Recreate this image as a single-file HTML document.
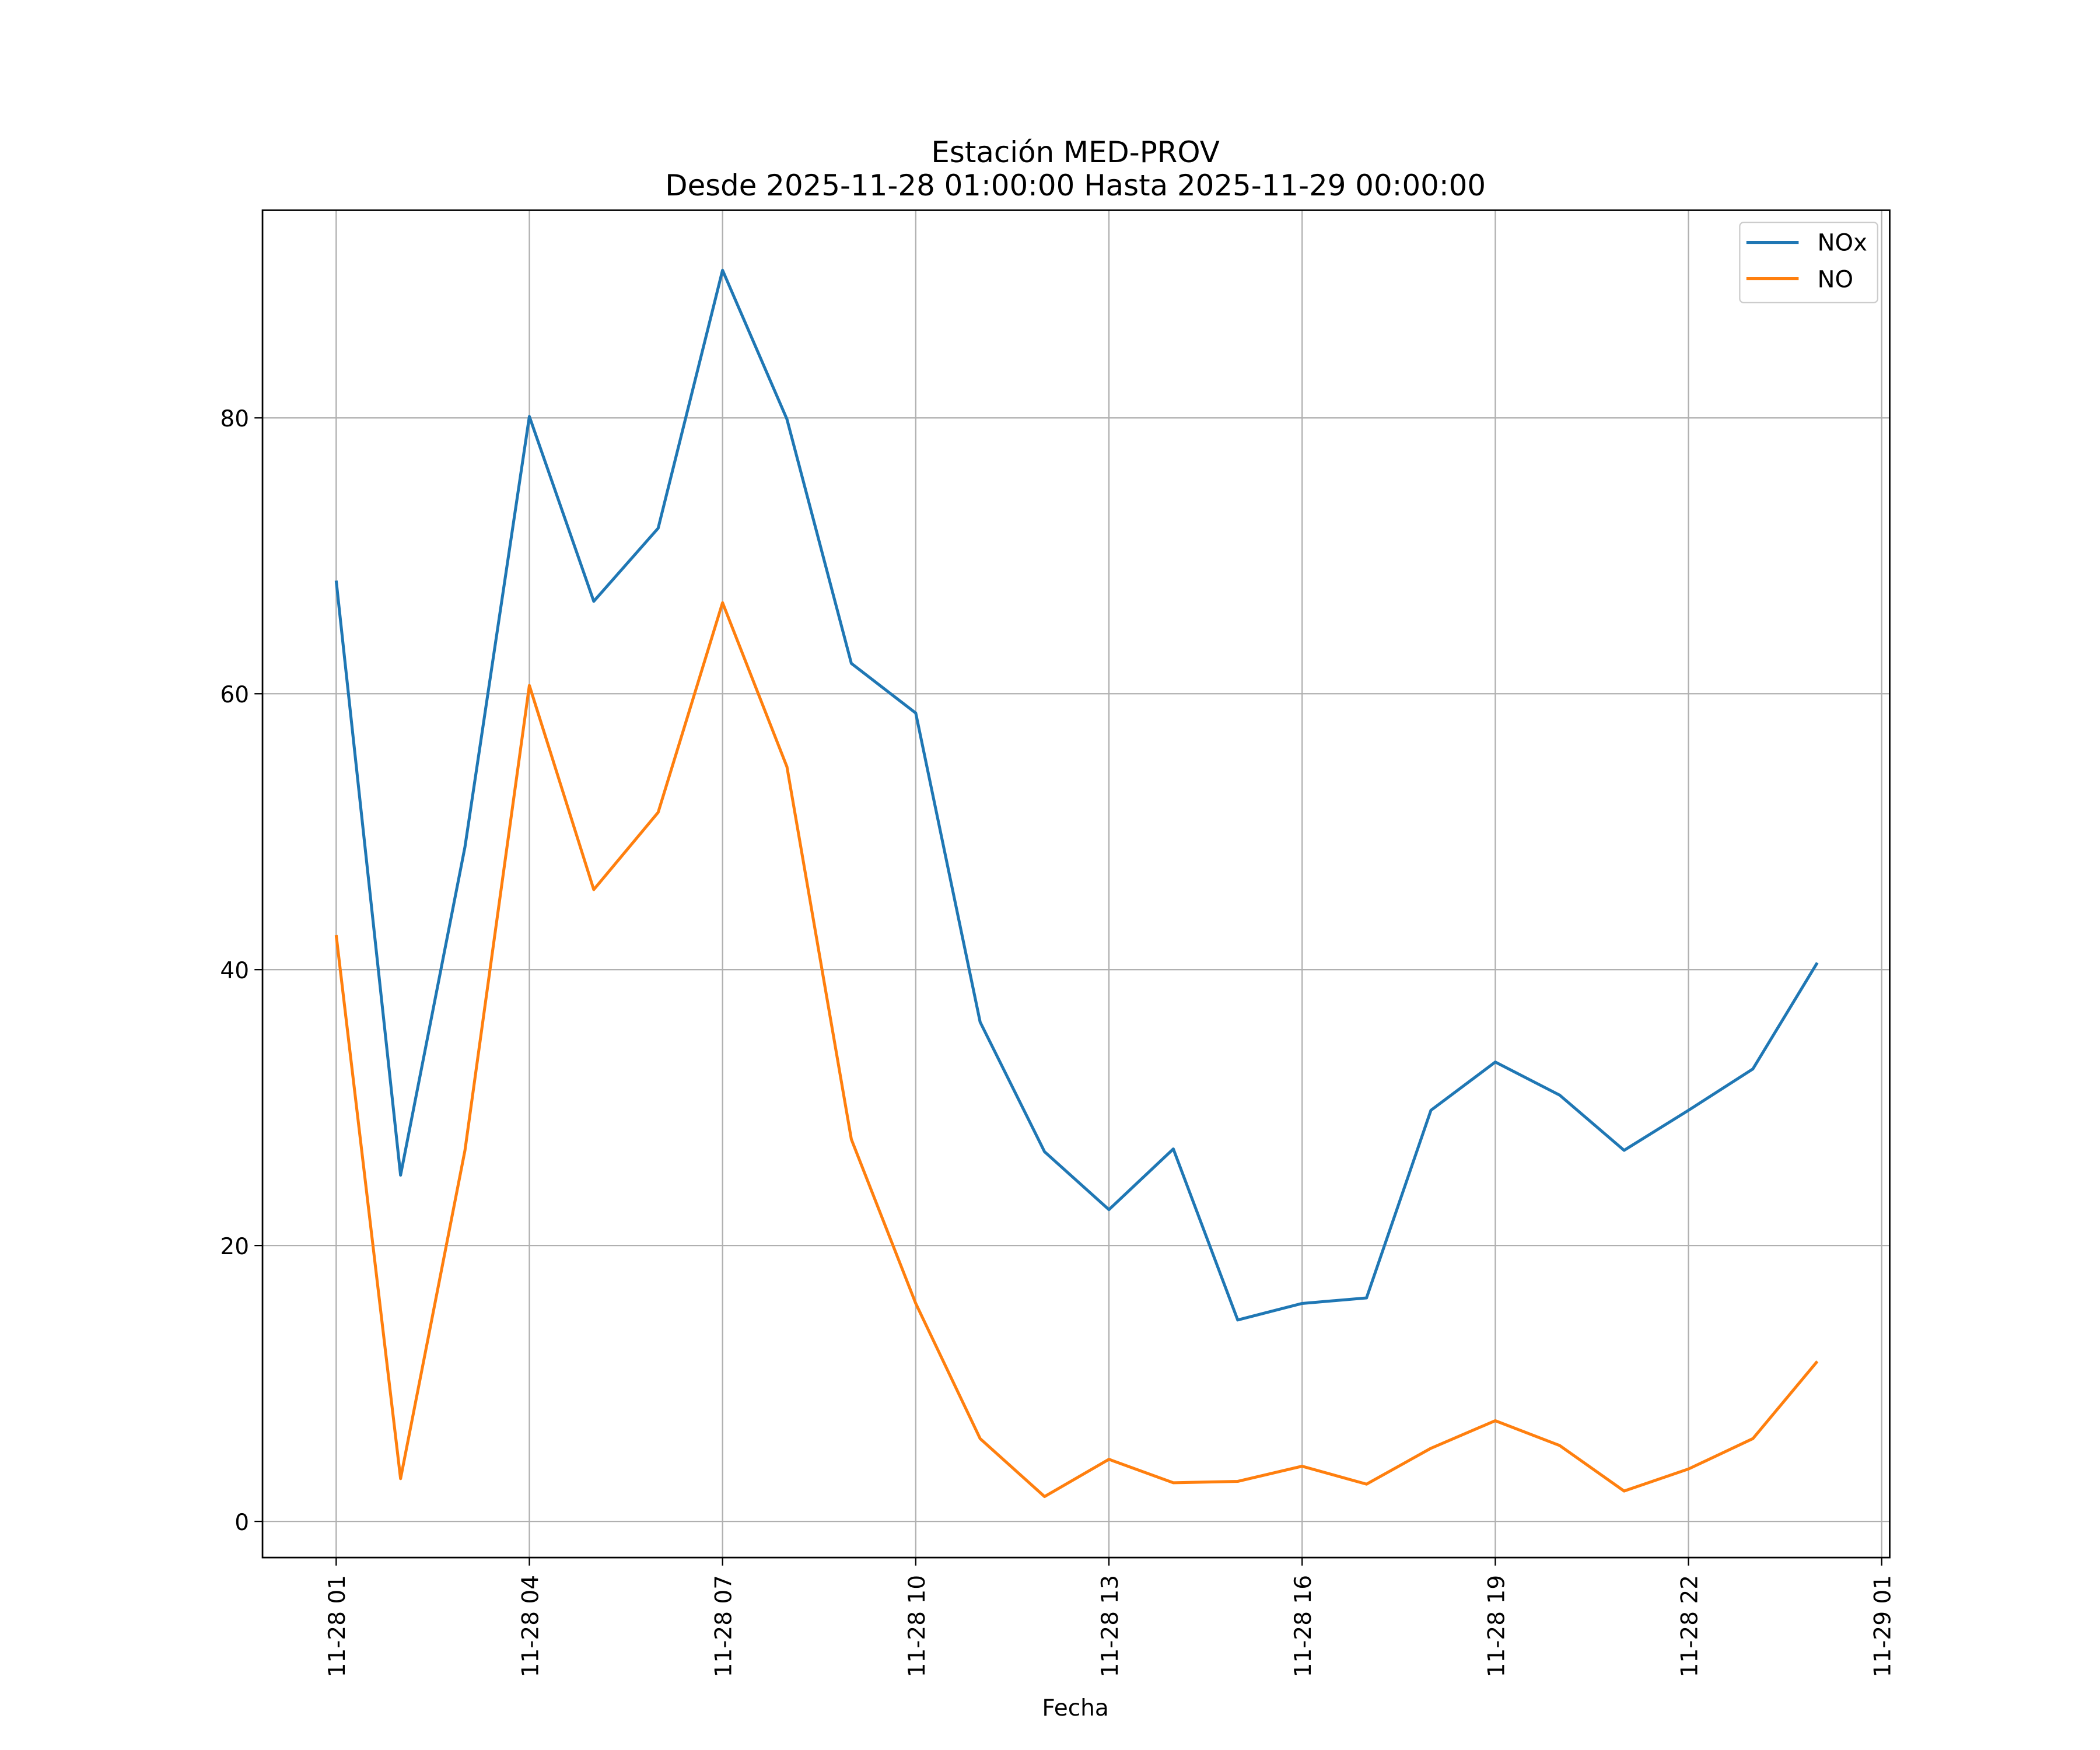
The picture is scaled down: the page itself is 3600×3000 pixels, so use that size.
<!DOCTYPE html>
<html><head><meta charset="utf-8"><style>html,body{margin:0;padding:0;background:#fff}svg{display:block}text{font-family:"DejaVu Sans","Liberation Sans",sans-serif;fill:#000}</style></head>
<body>
<svg id="chart" width="3600" height="3000" viewBox="0 0 1568 1306.7" xmlns="http://www.w3.org/2000/svg">
<rect width="1568" height="1306.7" fill="#fff"/>
<text x="803" y="121" font-size="21.7" text-anchor="middle">Estación MED-PROV</text>
<text x="803" y="146" font-size="21.7" text-anchor="middle">Desde 2025-11-28 01:00:00 Hasta 2025-11-29 00:00:00</text>
<g id="grid"></g><g id="series"></g><g id="axes"></g>
<text x="803" y="1281" font-size="17" text-anchor="middle">Fecha</text>
<g>
<rect x="1299" y="166" width="103" height="60" fill="#fff" stroke="#ccc" rx="3"/>
<line x1="1304" y1="181" x2="1343" y2="181" stroke="#1f77b4" stroke-width="2.2"/>
<text x="1357" y="187" font-size="17.5">NOx</text>
<line x1="1304" y1="208" x2="1343" y2="208" stroke="#ff7f0e" stroke-width="2.2"/>
<text x="1357" y="214.5" font-size="17.5">NO</text>
</g>
</svg>
<script>
const hours = [1,2,3,4,5,6,7,8,9,10,11,12,13,14,15,16,17,18,19,20,21,22,23,24];
const noxValues = [68.2,25.1,48.9,80.1,66.7,72.0,90.7,79.9,62.2,58.6,36.2,26.8,22.6,27.0,14.6,15.8,16.2,29.8,33.3,30.9,26.9,29.8,32.8,40.5];
const noValues = [42.5,3.1,26.9,60.6,45.8,51.4,66.6,54.7,27.7,15.8,6.0,1.8,4.5,2.8,2.9,4.0,2.7,5.3,7.3,5.5,2.2,3.8,6.0,11.6];
const xTickHours = [1,4,7,10,13,16,19,22,25];
const xTickLabels = ["11-28 01","11-28 04","11-28 07","11-28 10","11-28 13","11-28 16","11-28 19","11-28 22","11-29 01"];
const yTicks = [0,20,40,60,80];

const L=196,R=1411,T=157,B=1163;
const xS=h=>251+(h-1)*(1154/24);
const yS=v=>1136-v*10.3;
const NS="http://www.w3.org/2000/svg";
function mk(tag,attrs,parent){const e=document.createElementNS(NS,tag);for(const k in attrs)e.setAttribute(k,attrs[k]);parent.appendChild(e);return e;}
const grid=document.getElementById('grid'),series=document.getElementById('series'),axes=document.getElementById('axes');
xTickHours.forEach((h,i)=>{
  const x=xS(h);
  const g=mk('line',{x1:x,x2:x,y1:T,y2:B,stroke:'#b0b0b0','stroke-width':1},grid);
  
  
  mk('line',{x1:x,x2:x,y1:B,y2:B+6,stroke:'#000','stroke-width':1},axes);
  const t=mk('text',{x:0,y:0,'font-size':17,'text-anchor':'end',transform:`translate(${x+6.5},${B+13}) rotate(-90)`},axes);
  t.textContent=xTickLabels[i];
  
  
});
yTicks.forEach(v=>{
  const y=yS(v);
  const g=mk('line',{x1:L,x2:R,y1:y,y2:y,stroke:'#b0b0b0','stroke-width':1},grid);
  
  
  mk('line',{x1:L-6,x2:L,y1:y,y2:y,stroke:'#000','stroke-width':1},axes);
  const t=mk('text',{x:L-10,y:y+6.5,'font-size':17,'text-anchor':'end'},axes);
  t.textContent=v;
  
  
});
const frame=mk('rect',{x:L,y:T,width:R-L,height:B-T,fill:'none',stroke:'#000','stroke-width':1.2},axes);


function line(vals,color,name){
  const p=mk('polyline',{points:vals.map((v,i)=>xS(hours[i])+','+yS(v)).join(' '),fill:'none',stroke:color,'stroke-width':2.2,'stroke-linejoin':'round'},series);
  
  
}
line(noxValues,'#1f77b4','nox-line');
line(noValues,'#ff7f0e','no-line');
</script>
</body></html>
